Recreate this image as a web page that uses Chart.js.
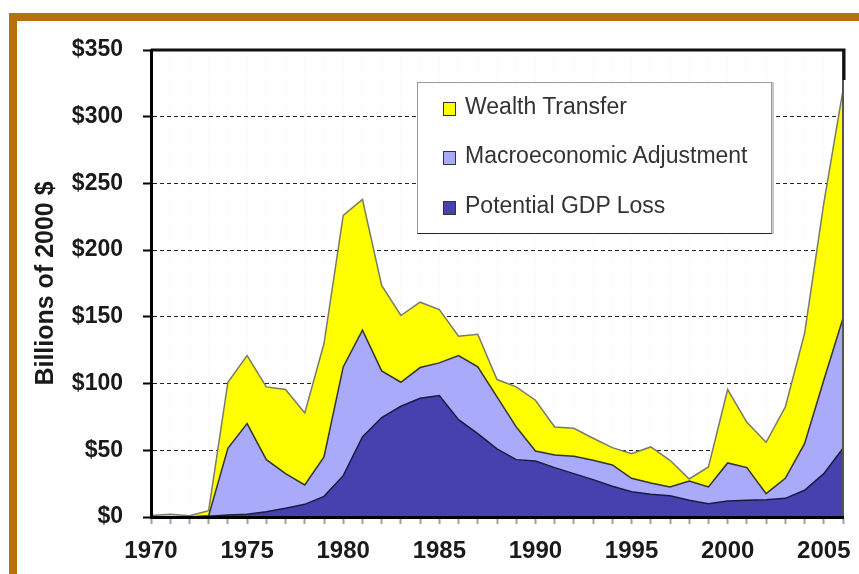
<!DOCTYPE html>
<html>
<head>
<meta charset="utf-8">
<script src="https://cdn.jsdelivr.net/npm/chart.js@4.4.0/dist/chart.umd.min.js"></script>
<style>
  html, body { margin: 0; padding: 0; background: #fff; }
  #wrap { position: relative; width: 859px; height: 574px; overflow: hidden; }
  #frame {
    position: absolute; left: 9px; top: 13px; width: 900px; height: 600px;
    border-left: 8px solid #B3720F; border-top: 8px solid #B3720F;
  }
  #chart { position: absolute; left: 0; top: 0; }
  #legend {
    position: absolute; left: 417px; top: 82px; width: 353px; height: 150px;
    background: #fff; border: 1px solid #9a9a9a; border-bottom-color: #222;
    box-shadow: 2px 0 0 #c8c8c8;
    font-family: "Liberation Sans", Arial, sans-serif; font-size: 23px; color: #333;
  }
  .item { position: absolute; left: 0; width: 100%; height: 28px; line-height: 28px; }
  .item span.txt { position: absolute; left: 47px; top: 0; white-space: nowrap; }
  .item span.sw {
    position: absolute; left: 25px; top: 10px; width: 11px; height: 12px;
    border: 1px solid #333;
  }
</style>
</head>
<body>
<div id="wrap">
  <div id="frame"></div>
  <canvas id="chart" width="859" height="574"></canvas>
  <div id="legend"></div>
</div>
<script>
// ==============================================================================
// 1. DATA (billions of 2000 $)
// ==============================================================================
const years = ['1970','1971','1972','1973','1974','1975','1976','1977','1978','1979',
               '1980','1981','1982','1983','1984','1985','1986','1987','1988','1989',
               '1990','1991','1992','1993','1994','1995','1996','1997','1998','1999',
               '2000','2001','2002','2003','2004','2005','2006'];

const gdpLoss  = [0, 0, 0, 0.5, 1.5, 2, 4, 6.5, 9.5, 15.5,
                  31, 60, 74.5, 83, 89, 91, 73, 62.5, 51, 43,
                  42, 37, 32.5, 28, 23, 19, 17, 16, 12.5, 10,
                  12, 12.5, 13, 14, 20, 32.5, 51.5];

const macroAdj = [0, 0, 0, 0.5, 50, 68, 39, 26, 14.5, 29.5,
                  81.5, 80, 35, 18, 23, 24.5, 48, 50, 39, 24.5,
                  7.5, 9.5, 13, 14.5, 16, 10, 8.5, 6.5, 14.5, 12.5,
                  28.5, 24.5, 4.5, 15, 35, 70, 97.5];

const wealthTr = [1.2, 2, 1, 3.7, 49.5, 51, 54.5, 63, 54, 85,
                  113.5, 98, 64, 50, 49, 40, 14.5, 24.5, 13, 30,
                  38, 21, 21, 16.5, 13, 18.5, 27, 20, 1.5, 15,
                  55, 34, 38.5, 53.5, 82.5, 132.5, 171];

const yTicks = [0, 50, 100, 150, 200, 250, 300, 350];
const seriesNames = ['Wealth Transfer', 'Macroeconomic Adjustment', 'Potential GDP Loss'];
const seriesColors = ['#FFFF00', '#AAAAFA', '#4641AE'];

// ==============================================================================
// 2. HELPERS
// ==============================================================================
const FONT = '"Liberation Sans", Arial, sans-serif';

function buildLegend() {
    const rows = [23 - 14, 72 - 14, 122 - 14];
    document.getElementById('legend').innerHTML = seriesNames.map((name, i) =>
        `<div class="item" style="top:${rows[i]}px">
            <span class="sw" style="background:${seriesColors[i]}"></span>
            <span class="txt">${name}</span>
         </div>`).join('');
}

// top + right edge of the plot box
const plotFrame = {
    id: 'plotFrame',
    afterDatasetsDraw(chart) {
        const { ctx, chartArea: a } = chart;
        ctx.save();
        ctx.lineWidth = 2;
        ctx.strokeStyle = '#555';
        ctx.beginPath();
        ctx.moveTo(a.right, a.top);
        ctx.lineTo(a.right, a.bottom);
        ctx.stroke();
        ctx.lineWidth = 3;
        ctx.strokeStyle = '#111';
        ctx.beginPath();
        ctx.moveTo(a.left, a.top);
        ctx.lineTo(a.right + 1, a.top);
        ctx.lineTo(a.right + 1, a.top + 30);
        ctx.stroke();
        ctx.restore();
    }
};

// ==============================================================================
// 3. CHART
// ==============================================================================
function renderChart() {
    const ctx = document.getElementById('chart').getContext('2d');
    new Chart(ctx, {
        type: 'line',
        data: {
            labels: years,
            datasets: [
                { label: seriesNames[2], data: gdpLoss, backgroundColor: seriesColors[2],
                  borderColor: '#1c1a40', borderWidth: 1.5, fill: 'origin' },
                { label: seriesNames[1], data: macroAdj, backgroundColor: seriesColors[1],
                  borderColor: '#333', borderWidth: 1.5, fill: '-1' },
                { label: seriesNames[0], data: wealthTr, backgroundColor: seriesColors[0],
                  borderColor: '#7a7a6a', borderWidth: 1.5, fill: '-1' }
            ]
        },
        options: {
            responsive: false,
            animation: false,
            layout: { padding: { left: 0, top: 50, right: 16, bottom: 0 } },
            elements: { point: { radius: 0 }, line: { tension: 0 } },
            plugins: { legend: { display: false }, tooltip: { enabled: false } },
            scales: {
                x: {
                    offset: false,
                    afterFit: (s) => { s.height = 57; },
                    grid: { color: 'rgba(0,0,0,0.06)', lineWidth: 1, tickLength: 7,
                            tickColor: '#a0a0a0', tickWidth: 2, tickBorderDash: [] },
                    border: { color: '#000', width: 3, dash: [1, 2], z: 1 },
                    ticks: {
                        autoSkip: false, maxRotation: 0, padding: 13, color: '#1a1a1a',
                        font: { family: FONT, size: 24, weight: 'bold' },
                        callback: (v, i) => (Number(years[i]) % 5 === 0 ? years[i] : '')
                    }
                },
                y: {
                    stacked: true,
                    min: yTicks[0],
                    max: yTicks[yTicks.length - 1],
                    afterFit: (s) => { s.width = 151; },
                    afterBuildTicks: (s) => { s.ticks = yTicks.map(v => ({ value: v })); },
                    grid: {
                        color: (c) => (c.tick && (c.tick.value === 0 || c.tick.value === 350)) ? 'rgba(0,0,0,0)' : '#222',
                        lineWidth: 1, tickLength: 8, tickColor: '#000', tickWidth: 2, tickBorderDash: []
                    },
                    border: { color: '#000', width: 3, dash: [4, 3], z: 1 },
                    ticks: {
                        padding: 20, color: '#1a1a1a',
                        font: { family: FONT, size: 23, weight: 'bold' },
                        callback: (v) => '$' + v
                    },
                    title: {
                        display: true, text: 'Billions of 2000 $', color: '#1a1a1a',
                        padding: { top: 31, bottom: 0 },
                        font: { family: FONT, size: 25, weight: 'bold' }
                    }
                }
            }
        },
        plugins: [plotFrame]
    });
}

// ==============================================================================
// 4. INIT
// ==============================================================================
buildLegend();
renderChart();
</script>
</body>
</html>
